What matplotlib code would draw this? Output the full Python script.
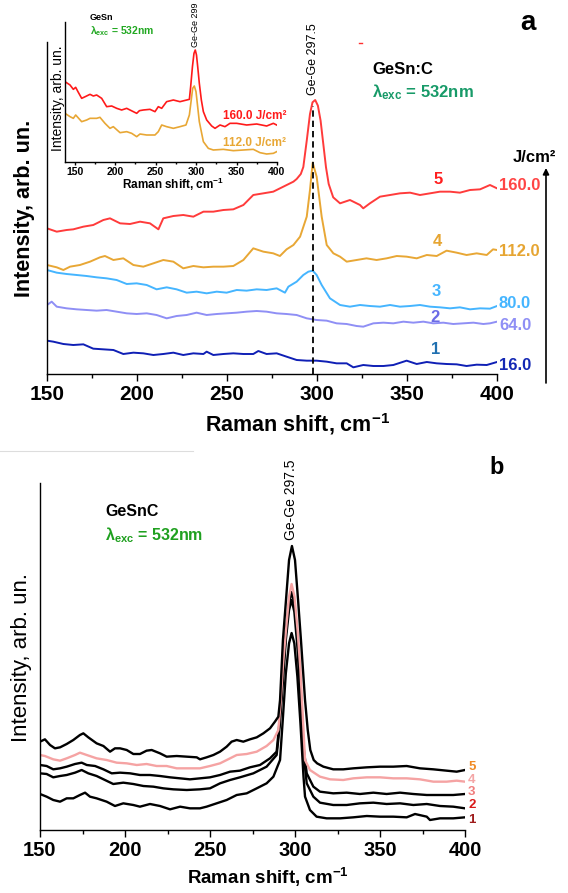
import matplotlib
matplotlib.use('Agg')
import matplotlib.pyplot as plt
from matplotlib.ticker import MultipleLocator
from matplotlib.lines import Line2D

plt.rcParams['font.family'] = ['Liberation Sans', 'DejaVu Sans']
plt.rcParams['mathtext.fontset'] = 'custom'
plt.rcParams['mathtext.rm'] = 'Liberation Sans'
plt.rcParams['mathtext.bf'] = 'Liberation Sans:bold'
plt.rcParams['mathtext.it'] = 'Liberation Sans:italic'

# ---- panel a: GeSn:C spectra for five laser fluences ----
a1_x = [150, 153.5, 159.1, 164.6, 170.2, 175.7, 181.3, 186.9, 192.4, 198.0, 203.5, 209.1, 214.6, 220.2,
        225.7, 231.3, 236.9, 238.7, 242.4, 248.0, 253.5, 259.1, 264.6, 267.4, 272.0, 277.6, 283.1, 288.7,
        294.3, 299.8, 305.4, 310.9, 316.5, 320.2, 325.7, 331.3, 336.9, 342.4, 349.8, 355.4, 361.0, 366.5,
        372.0, 377.6, 383.1, 388.7, 394.3, 400]
a1_y = [100, 97, 90, 87, 89, 76, 74, 72, 60, 64, 62, 57, 60, 64, 57, 62, 60, 67, 57, 60, 62, 60, 60, 69,
        60, 62, 52, 42, 40, 40, 37, 32, 32, 20, 27, 24, 24, 27, 40, 30, 36, 32, 30, 29, 24, 28, 27, 36]

a2_x = [150, 152.6, 155.4, 160.9, 166.5, 172.0, 177.6, 183.1, 188.7, 194.3, 199.8, 205.4, 210.9, 216.5,
        222.0, 227.6, 233.1, 238.7, 244.3, 249.8, 255.4, 260.9, 266.5, 272.0, 277.6, 283.1, 288.7, 294.3,
        299.8, 305.4, 310.9, 316.5, 322.0, 325.7, 331.3, 336.9, 342.4, 348.0, 353.5, 359.1, 364.6, 370.2,
        375.7, 381.3, 386.9, 392.4, 396.1, 400]
a2_y = [207, 217, 202, 197, 194, 192, 190, 192, 187, 182, 180, 182, 177, 167, 174, 177, 184, 177, 180,
        182, 184, 187, 189, 187, 182, 180, 177, 167, 162, 160, 152, 150, 144, 142, 152, 154, 152, 157,
        154, 157, 152, 154, 150, 152, 154, 150, 152, 157]

a3_x = [150, 155.4, 160.9, 166.5, 172.0, 177.6, 183.1, 188.7, 194.3, 199.8, 205.4, 210.9, 216.5, 222.0,
        227.6, 233.1, 238.7, 244.3, 249.8, 255.4, 260.9, 266.5, 272.0, 277.6, 282.2, 284.1, 288.7, 292.4,
        295.2, 297.6, 299.8, 302.6, 307.2, 312.8, 318.3, 323.9, 329.4, 335.0, 340.6, 346.1, 351.7, 357.2,
        362.8, 368.3, 373.9, 379.4, 385.0, 390.6, 396.1, 400]
a3_y = [312, 304, 300, 297, 294, 290, 287, 282, 270, 272, 267, 254, 260, 254, 244, 247, 242, 247, 244,
        252, 250, 254, 252, 257, 244, 262, 277, 297, 307, 310, 297, 267, 227, 207, 202, 207, 204, 202,
        207, 202, 204, 207, 202, 200, 197, 200, 194, 197, 196, 204]

a4_x = [150, 155.4, 159.1, 162.8, 168.3, 173.9, 179.4, 182.2, 186.9, 192.4, 198.0, 203.5, 209.1, 214.6,
        220.2, 225.7, 231.3, 236.9, 242.4, 248.0, 253.5, 259.1, 264.6, 270.2, 275.7, 279.4, 283.1, 286.9,
        290.6, 294.3, 296.1, 297.6, 299.8, 302.6, 305.4, 309.1, 312.8, 316.5, 322.0, 327.5, 333.1, 338.7,
        344.3, 349.8, 355.4, 361.0, 366.5, 372.0, 377.6, 383.1, 388.7, 394.3, 397.8, 400]
a4_y = [327, 320, 312, 322, 327, 337, 350, 354, 342, 347, 327, 322, 332, 342, 337, 317, 324, 320, 322,
        322, 324, 342, 377, 367, 362, 354, 374, 387, 412, 472, 552, 634, 592, 472, 387, 362, 352, 337,
        342, 347, 342, 347, 354, 352, 347, 357, 354, 370, 364, 357, 362, 357, 374, 372]

a5_x = [150, 155.4, 160.9, 164.6, 170.2, 175.7, 181.3, 185.0, 190.6, 196.1, 201.7, 207.2, 211.9, 214.6,
        220.2, 225.7, 231.3, 236.9, 242.4, 248.0, 253.5, 259.1, 264.6, 270.2, 275.7, 281.3, 286.9, 288.7,
        291.0, 292.4, 294.3, 296.1, 297.5, 299.0, 300.5, 302.0, 303.5, 305.0, 306.5, 309.0, 312.8, 318.3,
        323.9, 325.7, 329.4, 335.0, 340.6, 346.1, 351.7, 357.2, 362.8, 368.3, 373.9, 379.4, 385.0, 390.6,
        396.1, 400]
a5_y = [437, 427, 432, 434, 442, 447, 462, 467, 452, 450, 457, 452, 434, 467, 474, 477, 472, 487, 487,
        492, 494, 507, 537, 542, 547, 562, 577, 585, 600, 621, 700, 780, 815, 822, 805, 760, 690, 620,
        570, 530, 512, 522, 507, 497, 512, 532, 537, 542, 544, 537, 542, 547, 547, 544, 552, 554, 567, 557]

fluence = ['16.0', '64.0', '80.0', '112.0', '160.0']
curve_no = ['1', '2', '3', '4', '5']

# inset: GeSn reference spectra
ins_x_red = [138, 144.2, 148.3, 151.2, 154, 158.6, 163, 168.9, 173, 177.1, 183.3, 189.5, 195.7, 201.9,
             208.0, 214.2, 220, 226.6, 230, 234.8, 243.0, 249.2, 253.3, 257.5, 263.6, 271.9, 280.1, 288.4,
             291.7, 293.3, 295.5, 297.4, 299, 300.5, 302, 304.0, 306.5, 309.0, 313.1, 319.3, 323.4, 329.6,
             335.7, 341.9, 350.2, 362.5, 374.9, 387.2, 395.5, 399.6]
ins_y_red = [241, 231, 218, 224, 211, 191, 196, 203, 198, 201, 191, 166, 168, 161, 156, 161, 154, 146,
             154, 156, 158, 151, 166, 161, 181, 186, 181, 186, 188, 226, 286, 326, 336, 321, 286, 236, 186,
             151, 126, 108, 101, 111, 106, 116, 116, 111, 114, 108, 116, 111]
ins_x_org = [138, 144.2, 148.3, 151.2, 158.6, 164.8, 168.9, 177.1, 181.2, 187.4, 193.6, 197.7, 206.0,
             214.2, 220.4, 226.6, 230.7, 238.9, 249.2, 253.3, 257.5, 263.6, 271.9, 280.1, 287.5, 291.7,
             295.8, 297.8, 299.9, 304.0, 309.0, 315.1, 321.3, 333.7, 346.0, 358.4, 370.7, 379.0, 387.2,
             395.5, 399.6]
ins_y_org = [146, 136, 131, 141, 121, 126, 131, 131, 134, 116, 101, 106, 88, 91, 86, 76, 84, 81, 81, 91,
             111, 106, 101, 106, 111, 141, 221, 228, 211, 121, 61, 41, 36, 38, 34, 36, 38, 28, 24, 26, 31]

# ---- panel b: GeSnC spectra ----
b1_x = [150, 153.9, 157.8, 161.8, 165.7, 169.6, 173.5, 176.5, 179.4, 183.3, 189.2, 194.1, 199.0, 204.9,
        208.8, 214.7, 220.6, 226.5, 232.4, 238.2, 244.1, 248.0, 253.9, 259.8, 265.7, 271.6, 277.5, 283.3,
        287.3, 291.2, 292.8, 294.6, 296.5, 298.0, 299.6, 301.4, 303.2, 305.0, 305.9, 308.8, 312.7, 318.6,
        326.5, 334.3, 342.2, 350.0, 357.8, 365.7, 370.6, 377.5, 379.4, 385.3, 393.1, 400]
b1_y = [108, 100, 90, 85, 95, 95, 105, 112, 100, 95, 85, 72, 80, 75, 70, 78, 72, 62, 70, 65, 65, 70, 80,
        90, 105, 110, 125, 140, 160, 210, 330, 470, 560, 591, 560, 460, 320, 160, 100, 60, 40, 35, 35,
        38, 42, 40, 40, 38, 48, 40, 30, 35, 35, 38]

b2_x = [150, 153.9, 157.8, 161.8, 165.7, 170.6, 174.5, 178.4, 183.3, 188.2, 193.1, 199.0, 204.9, 210.8,
        216.7, 222.5, 228.4, 236.3, 244.1, 250.0, 255.9, 261.8, 267.6, 275.5, 283.3, 289.2, 291.0, 292.8,
        294.6, 296.5, 298.0, 299.6, 301.4, 303.2, 305.0, 306.9, 310.8, 314.7, 322.5, 330.4, 338.2, 346.1,
        353.9, 361.8, 369.6, 377.5, 385.3, 393.1, 400]
b2_y = [170, 168, 158, 162, 165, 172, 180, 170, 162, 150, 138, 142, 138, 132, 130, 125, 122, 120, 122,
        125, 140, 150, 158, 170, 190, 225, 310, 440, 570, 660, 690, 655, 550, 400, 230, 140, 100, 82, 75,
        75, 80, 82, 78, 80, 75, 78, 72, 70, 65]

b3_x = [150, 153.9, 157.8, 161.8, 165.7, 170.6, 174.5, 177.5, 182.4, 187.3, 192.2, 197.1, 203.0, 208.8,
        214.7, 220.6, 226.5, 232.4, 238.2, 244.1, 250.0, 255.9, 261.8, 267.6, 273.5, 279.4, 285.3, 289.2,
        291.0, 292.8, 294.6, 296.5, 298.0, 299.6, 301.4, 303.2, 305.0, 306.9, 310.8, 314.7, 322.5, 330.4,
        338.2, 346.1, 353.9, 361.8, 369.6, 377.5, 385.3, 393.1, 400]
b3_y = [195, 192, 182, 185, 190, 198, 202, 195, 192, 182, 170, 172, 170, 165, 165, 162, 158, 155, 152,
        155, 158, 165, 175, 178, 188, 195, 215, 235, 330, 460, 590, 680, 714, 680, 580, 430, 250, 170,
        130, 115, 110, 112, 108, 112, 108, 112, 108, 105, 105, 105, 108]

b4_x = [150, 152.9, 157.8, 161.8, 165.7, 170.6, 173.5, 177.5, 183.3, 189.2, 195.1, 201.0, 206.9, 212.7,
        218.6, 224.5, 230.4, 236.3, 244.1, 250.0, 255.9, 261.8, 265.7, 271.6, 277.5, 283.3, 287.3, 290.2,
        291.5, 293.0, 294.7, 296.5, 298.0, 299.7, 301.5, 303.2, 305.0, 305.9, 308.8, 314.7, 320.6, 328.4,
        334.3, 342.2, 350.0, 357.8, 365.7, 373.5, 381.4, 389.2, 395.1, 400]
b4_y = [225, 222, 212, 208, 215, 225, 232, 225, 215, 210, 202, 200, 195, 198, 192, 192, 185, 185, 185,
        192, 200, 215, 225, 228, 235, 252, 270, 300, 380, 500, 600, 700, 738, 700, 600, 480, 300, 210,
        180, 160, 152, 150, 155, 158, 158, 155, 155, 152, 145, 145, 148, 145]

b5_x = [150, 152.9, 155.9, 158.8, 161.8, 165.7, 169.6, 173.5, 175.5, 178.4, 183.3, 187.3, 191.2, 194.1,
        197.1, 201.0, 204.9, 208.8, 212.7, 215.7, 220.6, 224.5, 230.4, 236.3, 242.2, 244.1, 248.0, 252.0,
        255.9, 259.8, 262.7, 265.7, 269.6, 273.5, 277.5, 281.4, 285.3, 288.2, 290.2, 291.2, 292.9, 294.7,
        296.5, 298.2, 300.0, 301.8, 303.5, 305.9, 307.5, 309.0, 311.0, 313.0, 316.7, 322.5, 328.4, 334.3,
        342.2, 350.0, 357.8, 365.7, 373.5, 381.4, 389.2, 395.1, 400]
b5_y = [265, 272, 255, 245, 248, 258, 270, 285, 290, 278, 260, 252, 235, 245, 245, 240, 228, 228, 238,
        240, 230, 220, 222, 220, 218, 212, 218, 225, 235, 250, 265, 270, 265, 272, 278, 290, 305, 325,
        340, 390, 570, 690, 810, 852, 810, 690, 570, 390, 300, 240, 210, 200, 190, 182, 182, 185, 188,
        190, 190, 192, 185, 182, 178, 175, 180]

W, H = 568, 893


def fx(px):
    return px / W


def fy(py):
    return 1 - py / H


def style_axis(ax, labelsize, major_len, minor_len, pad=3):
    ax.spines[['top', 'right']].set_visible(False)
    for s in ('left', 'bottom'):
        ax.spines[s].set_linewidth(1.0)
    ax.set_yticks([])
    ax.xaxis.set_major_locator(MultipleLocator(50))
    ax.xaxis.set_minor_locator(MultipleLocator(25))
    ax.tick_params(axis='x', which='major', direction='out', length=major_len, width=1.0,
                   labelsize=labelsize, pad=pad)
    ax.tick_params(axis='x', which='minor', direction='out', length=minor_len, width=1.0)
    for lbl in ax.get_xticklabels():
        lbl.set_fontweight('bold')


fig = plt.figure(figsize=(5.68, 8.93), dpi=100)

# ---------------- panel a ----------------
ax_a = fig.add_axes([fx(47), fy(374), fx(497) - fx(47), fy(42) - fy(374)])
ax_a.set_xlim(150, 400)
ax_a.set_ylim(0, 996)
style_axis(ax_a, 15, 5, 3)

colors_a = ['#0f1fb5', '#8f8ff5', '#45b5ff', '#e8a735', '#ff3b3b']
num_colors_a = ['#2070b0', '#6b6be6', '#45b5ff', '#e6a532', '#ff1f1f']
val_colors_a = ['#1428b4', '#8f8ff5', '#45b5ff', '#e6a532', '#ff4545']
curves_a = [(a1_x, a1_y), (a2_x, a2_y), (a3_x, a3_y), (a4_x, a4_y), (a5_x, a5_y)]
for (xs, ys), c in zip(curves_a, colors_a):
    ax_a.plot(xs, ys, color=c, lw=1.4)

ax_a.vlines(297.5, 0, 804, colors='black', linestyles=(0, (3.5, 2.2)), lw=1.3, zorder=5)
ax_a.text(297.5, 837, 'Ge-Ge 297.5', rotation=90, ha='center', va='bottom', fontsize=9)

num_pos_a = [(366.1, 72), (365.6, 171), (366.1, 246), (366.7, 396), (367.2, 582)]
val_y_a = [27, 144, 210, 366, 564]
for i in range(5):
    ax_a.text(num_pos_a[i][0], num_pos_a[i][1], curve_no[i], color=num_colors_a[i],
              fontsize=12, fontweight='bold', ha='center', va='center')
    ax_a.text(401.1, val_y_a[i], fluence[i], color=val_colors_a[i],
              fontsize=12, fontweight='bold', ha='left', va='center')

fig.text(fx(298), fy(424), r'Raman shift, cm$^{\mathbf{-1}}$', ha='center', va='center',
         fontsize=15.5, fontweight='bold')
fig.text(fx(25), fy(208), 'Intensity, arb. un.', rotation=90, ha='center', va='center',
         fontsize=15.5, fontweight='bold')
fig.text(fx(372), fy(70), 'GeSn:C', ha='left', va='center', fontsize=12, fontweight='bold')
fig.text(fx(372), fy(92), r'λ$_{\mathbf{exc}}$ = 532nm', ha='left', va='center', fontsize=12,
         fontweight='bold', color='#179a68')
fig.text(fx(528), fy(23), 'a', ha='center', va='center', fontsize=20, fontweight='bold')
fig.text(fx(513), fy(158), 'J/cm²', ha='left', va='center', fontsize=12, fontweight='bold')
ax_a.annotate('', xy=(fx(546), fy(168)), xytext=(fx(546), fy(383)), xycoords='figure fraction',
              arrowprops=dict(arrowstyle='-|>', color='black', lw=1.2, mutation_scale=9,
                              shrinkA=0, shrinkB=0))
# small stray red tick above the peak label
fig.add_artist(Line2D([fx(359), fx(362)], [fy(43), fy(43)], color='#ff3030', lw=1.0))

# inset
ax_in = fig.add_axes([fx(65), fy(162), fx(277) - fx(65), fy(22) - fy(162)])
ax_in.set_xlim(138, 400)
ax_in.set_ylim(0, 420)
style_axis(ax_in, 7.5, 2.5, 1.5, pad=1)
ax_in.plot(ins_x_org, ins_y_org, color='#e8a735', lw=1.2)
ax_in.plot(ins_x_red, ins_y_red, color='#ff1a1a', lw=1.2)
ax_in.text(299, 345, 'Ge-Ge 299', rotation=90, ha='center', va='bottom', fontsize=6.5)
ax_in.text(333, 138, '160.0 J/cm²', color='#ff1a1a', fontsize=8.5, fontweight='bold',
           ha='left', va='center')
ax_in.text(333, 57, '112.0 J/cm²', color='#e8a735', fontsize=8.5, fontweight='bold',
           ha='left', va='center')
fig.text(fx(173), fy(184.5), r'Raman shift, cm$^{\mathbf{-1}}$', ha='center', va='center',
         fontsize=8.5, fontweight='bold')
fig.text(fx(58), fy(98), 'Intensity, arb. un.', rotation=90, ha='center', va='center', fontsize=10)
fig.text(fx(90), fy(17), 'GeSn', ha='left', va='center', fontsize=6.5, fontweight='bold')
fig.text(fx(90), fy(31), r'λ$_{\mathbf{exc}}$ = 532nm', ha='left', va='center', fontsize=7.5,
         fontweight='bold', color='#22a822')

# ---------------- panel b ----------------
ax_b = fig.add_axes([fx(40), fy(830), fx(465) - fx(40), fy(483) - fy(830)])
ax_b.set_xlim(150, 400)
ax_b.set_ylim(0, 1041)
style_axis(ax_b, 14.5, 5, 3)

curves_b = [(b1_x, b1_y, 'black'), (b2_x, b2_y, 'black'), (b3_x, b3_y, 'black'),
            (b4_x, b4_y, '#f5a3a3'), (b5_x, b5_y, 'black')]
for xs, ys, c in curves_b:
    ax_b.plot(xs, ys, color=c, lw=1.7)

num_colors_b = ['#9e1b1b', '#d91a1a', '#f07e7e', '#f4a6a6', '#f08a24']
num_y_b = [30, 75, 114, 150, 189]
for i in range(5):
    ax_b.text(401.8, num_y_b[i], curve_no[i], color=num_colors_b[i], fontsize=9.5,
              fontweight='bold', ha='left', va='center')

ax_b.text(297.6, 870, 'Ge-Ge 297.5', rotation=90, ha='center', va='bottom', fontsize=10)
fig.text(fx(268), fy(877), r'Raman shift, cm$^{\mathbf{-1}}$', ha='center', va='center',
         fontsize=13.5, fontweight='bold')
fig.text(fx(22), fy(657), 'Intensity, arb. un.', rotation=90, ha='center', va='center', fontsize=16)
fig.text(fx(105), fy(512), 'GeSnC', ha='left', va='center', fontsize=11.5, fontweight='bold')
fig.text(fx(105), fy(535), r'λ$_{\mathbf{exc}}$ = 532nm', ha='left', va='center', fontsize=11.5,
         fontweight='bold', color='#1fa01f')
fig.text(fx(497), fy(468), 'b', ha='center', va='center', fontsize=17, fontweight='bold')

# thin separator between the panels
fig.add_artist(Line2D([0, fx(193)], [fy(451), fy(451)], color='#dddddd', lw=0.8))

fig.savefig('out.png', dpi=100)
